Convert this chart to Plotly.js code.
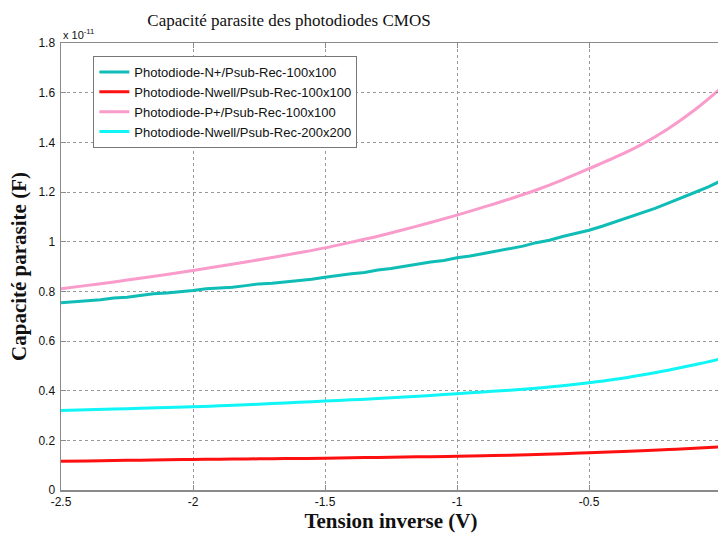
<!DOCTYPE html>
<html>
<head>
<meta charset="utf-8">
<script src="https://cdn.plot.ly/plotly-3.0.1.min.js"></script>
<style>
html,body{margin:0;padding:0;overflow:hidden;background:#fff;}
#chart{width:721px;height:534px;}
</style>
</head>
<body>
<div id="chart"></div>
<script>
// Reverse voltage (V)
const voltage = [-2.5,-2.4,-2.3,-2.2,-2.1,-2.0,-1.9,-1.8,-1.7,-1.6,-1.5,-1.4,-1.3,-1.2,-1.1,-1.0,-0.9,-0.8,-0.7,-0.6,-0.5,-0.4,-0.3,-0.2,-0.1,0];
const voltageFine = [-2.50,-2.45,-2.40,-2.35,-2.30,-2.25,-2.20,-2.15,-2.10,-2.05,-2.00,-1.95,-1.90,-1.85,-1.80,-1.75,-1.70,-1.65,-1.60,-1.55,-1.50,-1.45,-1.40,-1.35,-1.30,-1.25,-1.20,-1.15,-1.10,-1.05,-1.00,-0.95,-0.90,-0.85,-0.80,-0.75,-0.70,-0.65,-0.60,-0.55,-0.50,-0.45,-0.40,-0.35,-0.30,-0.25,-0.20,-0.15,-0.10,-0.05,0.00];

// Capacitance in units of 1e-11 F
const capNplus100 = [0.754,0.757,0.763,0.766,0.773,0.776,0.783,0.790,0.793,0.797,0.803,0.810,0.813,0.816,0.823,0.830,0.833,0.838,0.845,0.849,0.857,0.865,0.871,0.876,0.886,0.892,0.901,0.908,0.918,0.924,0.935,0.942,0.952,0.960,0.971,0.982,0.996,1.006,1.021,1.032,1.046,1.062,1.080,1.097,1.118,1.134,1.155,1.178,1.198,1.220,1.245];
const capNwell100 = [0.116,0.117,0.119,0.120,0.122,0.123,0.124,0.125,0.126,0.127,0.128,0.130,0.131,0.133,0.134,0.136,0.138,0.140,0.143,0.146,0.150,0.154,0.158,0.163,0.168,0.174];
const capPplus100 = [0.810,0.824,0.838,0.853,0.868,0.884,0.901,0.918,0.936,0.955,0.975,0.998,1.022,1.049,1.077,1.107,1.139,1.172,1.208,1.249,1.294,1.340,1.392,1.455,1.530,1.618];
const capNwell200 = [0.320,0.323,0.326,0.329,0.332,0.335,0.339,0.343,0.348,0.353,0.358,0.363,0.368,0.374,0.381,0.388,0.395,0.402,0.410,0.420,0.432,0.446,0.463,0.482,0.504,0.528];

const seriesNames = ["Photodiode-N+/Psub-Rec-100x100","Photodiode-Nwell/Psub-Rec-100x100","Photodiode-P+/Psub-Rec-100x100","Photodiode-Nwell/Psub-Rec-200x200"];
const xTicks = [-2.5,-2,-1.5,-1,-0.5,0];
const xTickLabels = ["-2.5","-2","-1.5","-1","-0.5","0"];
const yTicks = [0,0.2,0.4,0.6,0.8,1,1.2,1.4,1.6,1.8];
const yTickLabels = ["0","0.2","0.4","0.6","0.8","1","1.2","1.4","1.6","1.8"];

const traces = [
  {x: voltageFine, y: capNplus100, name: seriesNames[0], mode:'lines', line:{color:'#10BDB6', width:3}},
  {x: voltage, y: capNwell100, name: seriesNames[1], mode:'lines', line:{color:'#FF1010', width:3, shape:'spline'}},
  {x: voltage, y: capPplus100, name: seriesNames[2], mode:'lines', line:{color:'#FA9CCB', width:3, shape:'spline'}},
  {x: voltage, y: capNwell200, name: seriesNames[3], mode:'lines', line:{color:'#10F5F5', width:3, shape:'spline'}}
];

const axisCommon = {
  showline:true, mirror:'ticks', linecolor:'#8a8a8a', linewidth:1.5,
  ticks:'inside', ticklen:5, tickcolor:'#8a8a8a',
  showgrid:true, gridcolor:'#999', griddash:'dot', gridwidth:1,
  zeroline:false, tickfont:{family:'Liberation Sans, Arial, sans-serif', size:12, color:'#111'}
};

const layout = {
  width:721, height:534,
  margin:{l:61, r:0, t:43, b:44},
  paper_bgcolor:'#fff', plot_bgcolor:'#fff',
  title:{text:'Capacité parasite des photodiodes CMOS', x:289/721, xanchor:'center', xref:'container', y:0.962, yanchor:'middle', yref:'container',
         font:{family:'Liberation Serif, Times New Roman, serif', size:17, color:'#111'}},
  xaxis: Object.assign({}, axisCommon, {
    range:[-2.5,0], tickvals:xTicks, ticktext:xTickLabels,
    title:{text:'<b>Tension inverse (V)</b>', standoff:4, font:{family:'Liberation Serif, Times New Roman, serif', size:21, color:'#111'}}
  }),
  yaxis: Object.assign({}, axisCommon, {
    range:[0,1.8], tickvals:yTicks, ticktext:yTickLabels, ticklabelstandoff:2,
    title:{text:'<b>Capacité parasite (F)</b>', standoff:6, font:{family:'Liberation Serif, Times New Roman, serif', size:21, color:'#111'}}
  }),
  showlegend:true,
  legend:{x:0.049, y:0.971, xanchor:'left', yanchor:'top', bgcolor:'#fff', bordercolor:'#777', borderwidth:1,
          font:{family:'Liberation Sans, Arial, sans-serif', size:13, color:'#111'}, tracegroupgap:0, itemwidth:30},
  annotations:[{text:'x 10<sup>-11</sup>', xref:'paper', yref:'paper', x:0, y:1, xanchor:'left', yanchor:'bottom', showarrow:false,
                yshift:0, font:{family:'Liberation Sans, Arial, sans-serif', size:11, color:'#111'}}]
};

Plotly.newPlot('chart', traces, layout, {displayModeBar:false, staticPlot:true});
</script>
</body>
</html>
